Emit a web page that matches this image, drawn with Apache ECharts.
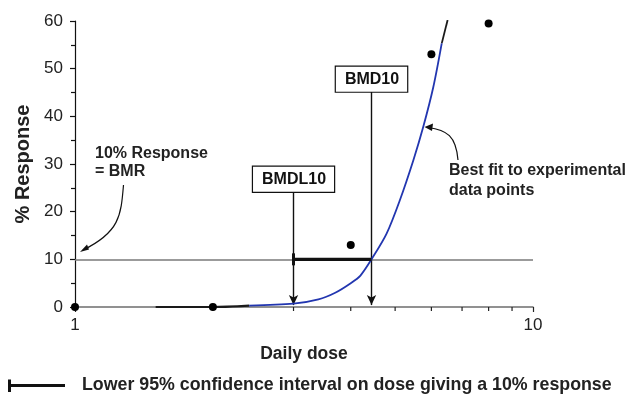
<!DOCTYPE html>
<html>
<head>
<meta charset="utf-8">
<script src="https://cdn.jsdelivr.net/npm/echarts@6/dist/echarts.min.js"></script>
<style>
html,body{margin:0;padding:0;background:#fff;}
#chart{width:627px;height:394px;}
</style>
</head>
<body>
<div id="chart"></div>
<script>
// ---- data ----
var pointDose = [1, 2, 4, 6, 8];
var pointResp = [0, 0, 13, 53, 59.5];

var fitDose = [1.5, 2, 2.4, 3.0, 3.4, 3.7, 4.0, 4.2, 4.44, 4.79, 5.12, 5.48, 5.76, 6.06, 6.32, 6.51];
var fitResp = [0, 0, 0.3, 0.7, 1.6, 3.0, 5.0, 6.6, 10, 15.4, 22.4, 30.8, 37.8, 46.2, 55.3, 60.2];
var blueFrom = 2.4, blueTo = 6.32;

var bmr = 10;
var bmd10 = 4.44;
var bmdl10 = 3.0;
var boxLabels = ['BMD10', 'BMDL10'];
var boxDose = [bmd10, bmdl10];
var boxResp = [47.8, 26.8];
var arrowEndResp = 0.4;

var xTickLabels = ['1', '10'];
var minorXTicks = [2, 3, 4, 5, 6, 7, 8, 9];

var FONT = '"Liberation Sans", Arial, Helvetica, sans-serif';

var fitData = fitDose.map(function (d, i) { return [d, fitResp[i]]; });
var blueData = fitData.filter(function (p) { return p[0] >= blueFrom && p[0] <= blueTo; });
var blackLow = fitData.filter(function (p) { return p[0] <= blueFrom; });
var blackHigh = fitData.filter(function (p) { return p[0] >= blueTo; });
var pointData = pointDose.map(function (d, i) { return [d, pointResp[i]]; });
var boxData = boxDose.map(function (d, i) { return { value: [d, boxResp[i]], name: boxLabels[i] }; });

var chart = echarts.init(document.getElementById('chart'), null, { renderer: 'canvas' });

function curveSeries(data, color, width, z) {
  return {
    type: 'line', data: data, smooth: 0.3, showSymbol: false, z: z,
    lineStyle: { color: color, width: width, opacity: 1 }, silent: true
  };
}

var option = {
  animation: false,
  backgroundColor: '#fff',
  grid: { left: 75, right: 94, top: 21, bottom: 87, containLabel: false },
  xAxis: {
    type: 'log', logBase: 10, min: 1, max: 10,
    name: 'Daily dose', nameLocation: 'middle', nameGap: 38,
    nameTextStyle: { fontFamily: FONT, fontWeight: 'bold', fontSize: 17.5, color: '#222' },
    axisLine: { lineStyle: { color: '#6e6e6e', width: 1.5 } },
    axisTick: { show: true, length: 5, lineStyle: { color: '#222', width: 1.2 } },
    axisLabel: {
      fontFamily: FONT, fontSize: 17, color: '#222', margin: 10,
      formatter: function (v) { return v === 1 ? xTickLabels[0] : (v === 10 ? xTickLabels[1] : ''); }
    },
    splitLine: { show: false }
  },
  yAxis: {
    type: 'value', min: 0, max: 60, interval: 10,
    name: '% Response', nameLocation: 'middle', nameGap: 42, nameRotate: 90,
    nameTextStyle: { fontFamily: FONT, fontWeight: 'bold', fontSize: 20, color: '#222' },
    axisLine: { show: true, lineStyle: { color: '#111', width: 1.2 } },
    axisTick: { show: true, length: 5, lineStyle: { color: '#111', width: 1.2 } },
    minorTick: { show: true, splitNumber: 2, length: 4, lineStyle: { color: '#111', width: 1.2 } },
    axisLabel: { fontFamily: FONT, fontSize: 17, color: '#222', margin: 12 },
    splitLine: { show: false }
  },
  series: [
    {
      type: 'line', data: [], silent: true, z: 1,
      markLine: {
        silent: true, symbol: ['none', 'none'], label: { show: false },
        lineStyle: { color: '#7a7a7a', width: 1.5, type: 'solid' },
        data: [{ yAxis: bmr }]
      }
    },
    {
      type: 'custom', silent: true, z: 3,
      data: minorXTicks.map(function (v) { return [v, 0]; }),
      renderItem: function (params, api) {
        var p = api.coord([api.value(0), 0]);
        return { type: 'line', shape: { x1: p[0], y1: p[1], x2: p[0], y2: p[1] + 4 },
          style: { stroke: '#222', lineWidth: 1.2 } };
      },
      clip: false
    },
    curveSeries(blackLow, '#1a1a1a', 2.2, 4),
    curveSeries(blackHigh, '#1a1a1a', 1.8, 4),
    curveSeries(blueData, '#2236b0', 1.8, 5),
    {
      type: 'custom', silent: true, z: 6, clip: false,
      data: [[bmdl10, bmr, bmd10]],
      renderItem: function (params, api) {
        var a = api.coord([api.value(0), api.value(1)]);
        var b = api.coord([api.value(2), api.value(1)]);
        return { type: 'group', children: [
          { type: 'line', shape: { x1: a[0], y1: a[1], x2: b[0], y2: b[1] }, style: { stroke: '#111', lineWidth: 3.2 } },
          { type: 'line', shape: { x1: a[0], y1: a[1] - 6, x2: a[0], y2: a[1] + 6 }, style: { stroke: '#111', lineWidth: 3 } }
        ] };
      }
    },
    {
      type: 'line', data: [], silent: true, z: 6,
      markLine: {
        silent: true, symbol: ['none', 'arrow'], symbolSize: [7, 10], label: { show: false },
        lineStyle: { color: '#111', width: 1.4, type: 'solid', opacity: 1 },
        data: boxDose.map(function (d, i) {
          return [{ coord: [d, boxResp[i]] }, { coord: [d, arrowEndResp] }];
        })
      }
    },
    {
      type: 'scatter', data: pointData, symbol: 'circle', symbolSize: 8, z: 7, clip: false,
      itemStyle: { color: '#000', opacity: 1 }, silent: true
    },
    {
      type: 'scatter', data: boxData, symbolSize: 0, z: 8, silent: true,
      itemStyle: { opacity: 1 },
      label: {
        show: true, position: 'inside', formatter: '{b}',
        fontFamily: FONT, fontWeight: 'bold', fontSize: 16, color: '#111',
        backgroundColor: '#fff', borderColor: '#111', borderWidth: 1.2,
        padding: [5, 8, 4, 9], opacity: 1
      }
    }
  ],
  graphic: [
    { type: 'text', left: 95, top: 146, style: { text: '10% Response', font: 'bold 16px ' + FONT, fill: '#222' } },
    { type: 'text', left: 95, top: 164, style: { text: '= BMR', font: 'bold 16px ' + FONT, fill: '#222' } },
    { type: 'bezierCurve', shape: { x1: 123.5, y1: 185, x2: 83, y2: 250, cpx1: 121, cpy1: 215, cpx2: 120, cpy2: 232 },
      style: { stroke: '#111', lineWidth: 1.2, fill: null } },
    { type: 'polygon', shape: { points: [[80, 252], [87, 244.5], [89, 249.5]] }, style: { fill: '#111' } },

    { type: 'text', left: 449, top: 163, style: { text: 'Best fit to experimental', font: 'bold 16px ' + FONT, fill: '#222' } },
    { type: 'text', left: 449, top: 183, style: { text: 'data points', font: 'bold 16px ' + FONT, fill: '#222' } },
    { type: 'bezierCurve', shape: { x1: 458, y1: 160, x2: 428, y2: 127.5, cpx1: 456, cpy1: 136, cpx2: 447, cpy2: 130 },
      style: { stroke: '#111', lineWidth: 1.2, fill: null } },
    { type: 'polygon', shape: { points: [[424.5, 127], [433, 123.5], [432, 131]] }, style: { fill: '#111' } },

    { type: 'line', shape: { x1: 8, y1: 385.5, x2: 65, y2: 385.5 }, style: { stroke: '#111', lineWidth: 3 } },
    { type: 'line', shape: { x1: 9.5, y1: 379.5, x2: 9.5, y2: 392 }, style: { stroke: '#111', lineWidth: 3 } },
    { type: 'text', left: 82, top: 376, style: { text: 'Lower 95% confidence interval on dose giving a 10% response', font: 'bold 17.8px ' + FONT, fill: '#222' } }
  ]
};
chart.setOption(option);
</script>
</body>
</html>
